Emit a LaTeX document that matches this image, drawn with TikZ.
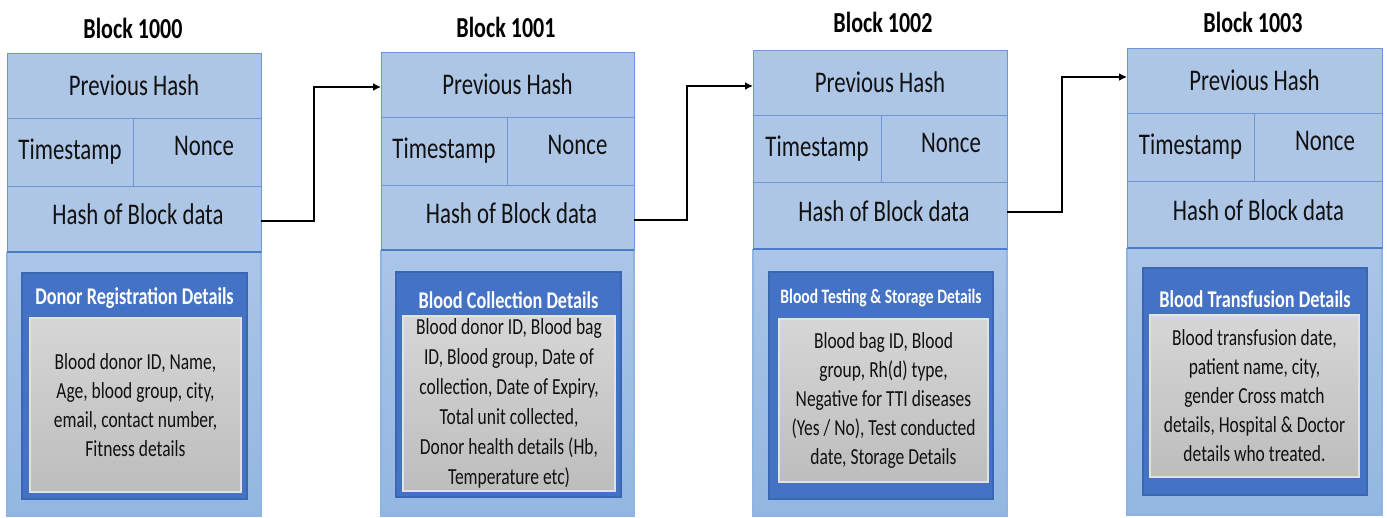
\documentclass[tikz,border=0pt]{standalone}
\usepackage{fontspec}
\setmainfont{Carlito}[FakeStretch=0.76]
\usetikzlibrary{arrows.meta}
\definecolor{cellfill}{HTML}{AEC6E6}
\definecolor{cellline}{HTML}{6E96D6}
\definecolor{divline}{HTML}{4A7CC8}
\definecolor{outerline}{HTML}{8EB4E3}
\definecolor{lowtop}{HTML}{AAC5E7}
\definecolor{lowbot}{HTML}{93B7E1}
\definecolor{darkblue}{HTML}{4472C4}
\definecolor{darkblueline}{HTML}{3B66B4}
\definecolor{graytop}{HTML}{D6D6D6}
\definecolor{graybot}{HTML}{BDBDBD}
\definecolor{grayline}{HTML}{E2E2E2}
\definecolor{txt}{HTML}{111111}
\newcommand{\nonceup}[1]{\hspace*{14pt}\raisebox{6pt}[\height][\depth]{#1}}
\newcommand{\hashup}[1]{\hspace*{8pt}\raisebox{4.5pt}[\height][\depth]{#1}}
\begin{document}
\begin{tikzpicture}[x=1pt,y=-1pt,
  cell/.style={draw=cellline, fill=cellfill, line width=1pt, inner sep=0pt, outer sep=0pt,
    anchor=north west, text=txt, font=\fontsize{30}{36}\selectfont},
  lower/.style={top color=lowtop, bottom color=lowbot},
  lowerline/.style={draw=outerline, line width=1.2pt},
  thickdiv/.style={draw=divline, line width=2.2pt},
  bluebox/.style={draw=darkblueline, fill=darkblue, line width=1.2pt, inner sep=0pt, outer sep=0pt, anchor=north west},
  boxtitle/.style={text=white, font=\bfseries\fontsize{24}{28}\selectfont, inner sep=0pt},
  graybox/.style={draw=grayline, top color=graytop, bottom color=graybot, line width=1.2pt,
    inner sep=0pt, outer sep=0pt, anchor=north west, align=center, text=txt},
  btitle/.style={text=black, font=\bfseries\fontsize{29}{34}\selectfont, inner sep=0pt},
  conn/.style={draw=black, line width=2pt, -{Latex[length=8pt,width=8pt]}}
]
\useasboundingbox (0,0) rectangle (1387,517);

% ---------------- Block 1000 ----------------
\shade[lower] (7,252) rectangle (261,516);
\draw[lowerline] (7,252) -- (7,516) -- (261,516) -- (261,252);
\node[btitle] (k1) at (133,28) {Block 1000};
\node[cell, minimum width=254pt, minimum height=65pt] (p1) at (7,53) {Previous Hash};
\node[cell, minimum width=126pt, minimum height=68pt] (t1) at (7,118) {Timestamp};
\node[cell, minimum width=128pt, minimum height=68pt] (n1) at (133,118) {\nonceup{Nonce}};
\node[cell, minimum width=254pt, minimum height=66pt] (h1) at (7,186) {\hashup{Hash of Block data}};
\draw[thickdiv] (h1.south west) -- (h1.south east);
\node[bluebox, minimum width=225pt, minimum height=226pt] (i1) at (22,273) {};
\node[boxtitle] (c1) at (134.5,298) {Donor Registration Details};
\node[graybox, minimum width=211pt, minimum height=174pt,
  font=\fontsize{23}{29}\selectfont] (g1) at (30,318)
  {Blood donor ID, Name,\\Age, blood group, city,\\email, contact number,\\Fitness details};

% ---------------- Block 1001 ----------------
\shade[lower] (381,250) rectangle (634,516);
\draw[lowerline] (381,250) -- (381,516) -- (634,516) -- (634,250);
\node[btitle] (k2) at (506,27) {Block 1001};
\node[cell, minimum width=253pt, minimum height=65pt] (p2) at (381,52) {Previous Hash};
\node[cell, minimum width=126pt, minimum height=68pt] (t2) at (381,117) {Timestamp};
\node[cell, minimum width=127pt, minimum height=68pt] (n2) at (507,117) {\nonceup{Nonce}};
\node[cell, minimum width=253pt, minimum height=65pt] (h2) at (381,185) {\hashup{Hash of Block data}};
\draw[thickdiv] (h2.south west) -- (h2.south east);
\node[bluebox, minimum width=225pt, minimum height=225pt] (i2) at (396,272) {};
\node[boxtitle] (c2) at (508.5,300) {Blood Collection Details};
\node[graybox, minimum width=212pt, minimum height=175pt,
  font=\fontsize{23}{30}\selectfont] (g2) at (403,316)
  {Blood donor ID, Blood bag\\ID, Blood group, Date of\\collection, Date of Expiry,\\Total unit collected,\\Donor health details (Hb,\\Temperature etc)};

% ---------------- Block 1002 ----------------
\shade[lower] (753,249) rectangle (1007,516);
\draw[lowerline] (753,249) -- (753,516) -- (1007,516) -- (1007,249);
\node[btitle] (k3) at (883,22) {Block 1002};
\node[cell, minimum width=254pt, minimum height=65pt] (p3) at (753,50) {Previous Hash};
\node[cell, minimum width=128pt, minimum height=67pt] (t3) at (753,115) {Timestamp};
\node[cell, minimum width=126pt, minimum height=67pt] (n3) at (881,115) {\nonceup{Nonce}};
\node[cell, minimum width=254pt, minimum height=67pt] (h3) at (753,182) {\hashup{Hash of Block data}};
\draw[thickdiv] (h3.south west) -- (h3.south east);
\node[bluebox, minimum width=224pt, minimum height=227pt] (i3) at (769,272) {};
\node[boxtitle, font=\bfseries\fontsize{20.5}{24}\selectfont] (c3) at (881,298) {Blood Testing \& Storage Details};
\node[graybox, minimum width=209pt, minimum height=163pt,
  font=\fontsize{23}{29}\selectfont] (g3) at (779,319)
  {Blood bag ID, Blood\\group, Rh(d) type,\\Negative for TTI diseases\\(Yes / No), Test conducted\\date, Storage Details};

% ---------------- Block 1003 ----------------
\shade[lower] (1127,248) rectangle (1382,515);
\draw[lowerline] (1127,248) -- (1127,515) -- (1382,515) -- (1382,248);
\node[btitle] (k4) at (1253,22) {Block 1003};
\node[cell, minimum width=255pt, minimum height=65pt] (p4) at (1127,48) {Previous Hash};
\node[cell, minimum width=127pt, minimum height=68pt] (t4) at (1127,113) {Timestamp};
\node[cell, minimum width=128pt, minimum height=68pt] (n4) at (1254,113) {\nonceup{Nonce}};
\node[cell, minimum width=255pt, minimum height=67pt] (h4) at (1127,181) {\hashup{Hash of Block data}};
\draw[thickdiv] (h4.south west) -- (h4.south east);
\node[bluebox, minimum width=224pt, minimum height=227pt] (i4) at (1143,268) {};
\node[boxtitle] (c4) at (1255,299) {Blood Transfusion Details};
\node[graybox, minimum width=209pt, minimum height=162pt,
  font=\fontsize{23}{29}\selectfont] (g4) at (1150,315)
  {Blood transfusion date,\\patient name, city,\\gender Cross match\\details, Hospital \& Doctor\\details who treated.};

% ---------------- connectors ----------------
\draw[conn] ([yshift=-2pt]h1.east) -- ++(53,0) |- ([yshift=-2.5pt]p2.west);
\draw[conn] ([yshift=-2.5pt]h2.east) -- ++(53,0) |- ([yshift=-3.5pt]p3.west);
\draw[conn] ([yshift=3.5pt]h3.east) -- ++(55,0) |- ([yshift=3.5pt]p4.west);
\end{tikzpicture}
\end{document}
